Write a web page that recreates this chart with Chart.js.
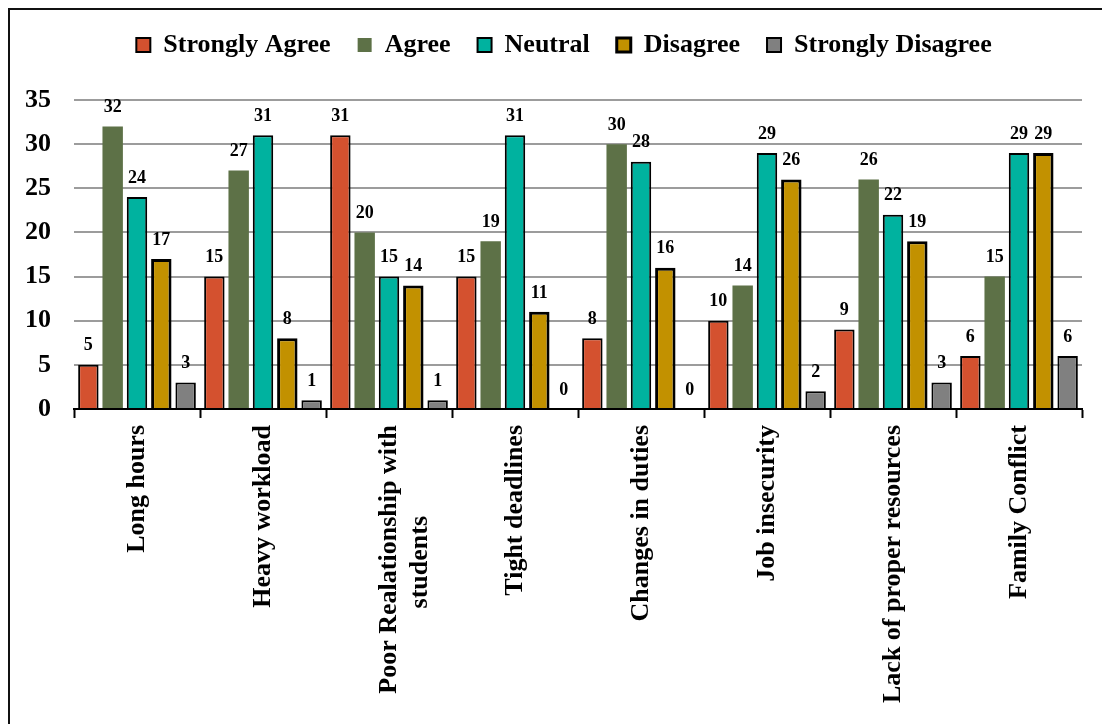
<!DOCTYPE html>
<html>
<head>
<meta charset="utf-8">
<title>Stress factors</title>
<script src="https://cdn.jsdelivr.net/npm/chart.js@4/dist/chart.umd.min.js"></script>
<style>
    html, body { margin: 0; padding: 0; background: #fff; overflow: hidden; }
    .frame {
        position: absolute; left: 8px; top: 8px;
        width: 1200px; height: 900px;
        border: 2px solid #111;
    }
    .wrap { position: absolute; left: 0; top: 0; width: 1102px; height: 724px; }
</style>
</head>
<body>
<div class="frame"></div>
<div class="wrap"><canvas id="chart-estres"></canvas></div>
<script>
const CATEGORIES = [
    "Long hours", "Heavy workload", ["Poor Realationship with", "students"],
    "Tight deadlines", "Changes in duties", "Job insecurity",
    "Lack of proper resources", "Family Conflict",
];
const STRONGLY_AGREE    = [5, 15, 31, 15, 8, 10, 9, 6];
const AGREE             = [32, 27, 20, 19, 30, 14, 26, 15];
const NEUTRAL           = [24, 31, 15, 31, 28, 29, 22, 29];
const DISAGREE          = [17, 8, 14, 11, 16, 26, 19, 29];
const STRONGLY_DISAGREE = [3, 1, 1, 0, 0, 2, 3, 6];
const Y_TICKS = [0, 5, 10, 15, 20, 25, 30, 35];

const SERIF = "'Liberation Serif', 'Times New Roman', serif";

// valores encima de cada barra
const valueLabels = {
    id: "valueLabels",
    afterDatasetsDraw(chart) {
        const ctx = chart.ctx;
        ctx.save();
        ctx.font = "bold 18px " + SERIF;
        ctx.fillStyle = "#000";
        ctx.textAlign = "center";
        ctx.textBaseline = "middle";
        chart.data.datasets.forEach((ds, i) => {
            chart.getDatasetMeta(i).data.forEach((bar, j) => {
                ctx.fillText(String(ds.data[j]), bar.x, bar.y - 19);
            });
        });
        ctx.restore();
    },
};

// más espacio bajo la leyenda y un pequeño corrimiento a la derecha
const legendGap = {
    id: "legendGap",
    beforeInit(chart) {
        const fit = chart.legend.fit;
        chart.legend.fit = function () {
            fit.call(this);
            this.height += 32;
        };
    },
    afterLayout(chart) {
        chart.legend.left += 22;
        chart.legend.right += 22;
    },
};

// centra las líneas cortas de una etiqueta de varias líneas
const measurer = document.createElement("canvas").getContext("2d");
function padLines(label) {
    if (!Array.isArray(label)) return label;
    measurer.font = "bold 26px " + SERIF;
    const widths = label.map(l => measurer.measureText(l).width);
    const max = Math.max(...widths);
    const space = measurer.measureText(" ").width;
    return label.map((l, k) => l + " ".repeat(Math.round((max - widths[k]) / 2 / space)));
}

function serie(label, data, color, border) {
    return {
        label: label,
        data: data,
        backgroundColor: color,
        borderColor: "#000",
        borderWidth: border,
        categoryPercentage: 0.965,
        barPercentage: 0.84,
    };
}

const ctx = document.getElementById("chart-estres").getContext("2d");
new Chart(ctx, {
    type: "bar",
    data: {
        labels: CATEGORIES,
        datasets: [
            serie("Strongly Agree", STRONGLY_AGREE, "#D4512F", 2),
            serie("Agree", AGREE, "#5D7147", 0),
            serie("Neutral", NEUTRAL, "#00B29F", 2),
            serie("Disagree", DISAGREE, "#C29100", 3),
            serie("Strongly Disagree", STRONGLY_DISAGREE, "#808080", 2),
        ],
    },
    options: {
        responsive: true,
        maintainAspectRatio: false,
        animation: false,
        layout: { padding: { left: 2, right: 20, top: 5, bottom: 14 } },
        plugins: {
            legend: {
                position: "top",
                labels: {
                    boxWidth: 14,
                    boxHeight: 14,
                    padding: 27,
                    color: "#000",
                    font: { family: SERIF, size: 26, weight: "bold" },
                },
            },
            tooltip: { enabled: false },
        },
        scales: {
            x: {
                grid: {
                    display: true,
                    drawOnChartArea: false,
                    drawTicks: true,
                    tickLength: 9,
                    tickWidth: 2,
                    tickColor: "#000",
                    offset: true,
                },
                border: { display: true, color: "#000", width: 2 },
                ticks: {
                    minRotation: 90,
                    maxRotation: 90,
                    padding: 7,
                    color: "#000",
                    font: { family: SERIF, size: 26, weight: "bold" },
                    callback: function (value, index) {
                        return padLines(CATEGORIES[index]);
                    },
                },
            },
            y: {
                min: 0,
                max: 35,
                afterBuildTicks: (axis) => {
                    axis.ticks = Y_TICKS.map(v => ({ value: v }));
                },
                grid: { color: "#9c9c9c", lineWidth: 2, drawTicks: false },
                border: { display: false },
                ticks: {
                    padding: 23,
                    color: "#000",
                    font: { family: SERIF, size: 26, weight: "bold" },
                },
            },
        },
    },
    plugins: [valueLabels, legendGap],
});
</script>
</body>
</html>
